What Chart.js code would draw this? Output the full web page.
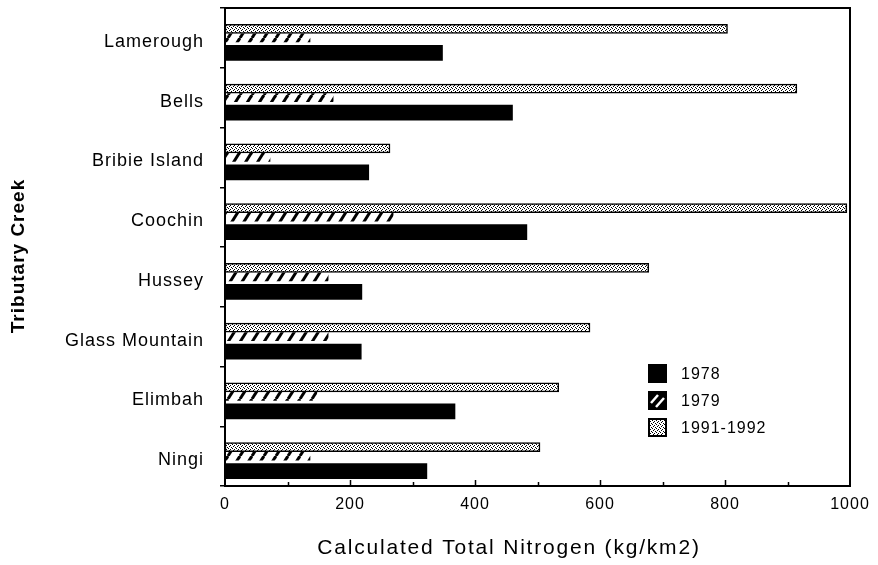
<!DOCTYPE html>
<html>
<head>
<meta charset="utf-8">
<script src="https://cdn.jsdelivr.net/npm/chart.js@4/dist/chart.umd.min.js"></script>
<style>
  html, body { margin: 0; padding: 0; background: #fff; }
  #wrap { width: 878px; height: 565px; }
</style>
</head>
<body>
<div id="wrap"><canvas id="nitrogen-chart" width="878" height="565"></canvas></div>
<script>
const creeks = ["Lamerough", "Bells", "Bribie Island", "Coochin", "Hussey", "Glass Mountain", "Elimbah", "Ningi"];
const n1978 = [348, 460, 230, 483, 219, 218, 368, 323];
const n1979 = [136, 173, 72, 269, 165, 165, 147, 136];
const n1991 = [804, 915, 264, 995, 678, 584, 534, 504];
const xTicks = [0, 200, 400, 600, 800, 1000];
const FONT = "'Liberation Sans', Arial, Helvetica, sans-serif";

// fine stipple used for the 1991-1992 bars
function stipplePattern() {
  const c = document.createElement("canvas");
  c.width = 4; c.height = 4;
  const g = c.getContext("2d");
  g.fillStyle = "#fff";
  g.fillRect(0, 0, 4, 4);
  g.fillStyle = "#000";
  g.fillRect(0, 0, 1, 1);
  g.fillRect(2, 1, 1, 1);
  g.fillRect(1, 2, 1, 1);
  g.fillRect(3, 3, 1, 1);
  return g.createPattern(c, "repeat");
}

// steep slashes used for the 1979 bars
function hatchPattern() {
  const w = 12, h = 19;
  const c = document.createElement("canvas");
  c.width = w; c.height = h;
  const g = c.getContext("2d");
  g.fillStyle = "#fff";
  g.fillRect(0, 0, w, h);
  g.strokeStyle = "#000";
  g.lineWidth = 3;
  for (const dx of [-w, 0, w]) {
    g.beginPath();
    g.moveTo(dx, h);
    g.lineTo(dx + w, 0);
    g.stroke();
  }
  return g.createPattern(c, "repeat");
}

const dots = stipplePattern();
const hatch = hatchPattern();

const frame = {
  id: "frame",
  beforeDraw(chart) {
    chart.ctx.letterSpacing = "1px";
  },
  afterDatasetsDraw(chart) {
    const { ctx, chartArea: a, scales } = chart;
    ctx.save();
    ctx.strokeStyle = "#000";
    ctx.lineWidth = 2;
    ctx.strokeRect(a.left, a.top, a.right - a.left, a.bottom - a.top);
    // inward ticks every 100 along the bottom axis
    ctx.lineWidth = 1.5;
    for (let v = 100; v < 1000; v += 100) {
      const x = Math.round(scales.x.getPixelForValue(v)) + 0.5;
      ctx.beginPath();
      ctx.moveTo(x, a.bottom);
      ctx.lineTo(x, a.bottom - (v % 200 === 0 ? 6 : 4));
      ctx.stroke();
    }
    ctx.restore();
  },
  afterDraw(chart) {
    const { ctx, chartArea: a } = chart;
    ctx.save();
    ctx.letterSpacing = "1px";
    // legend, listed oldest first
    const items = [
      { label: "1978", fill: "#000", kind: "solid" },
      { label: "1979", fill: "#000", kind: "hatch" },
      { label: "1991-1992", fill: dots, kind: "dots" },
    ];
    const lx = a.left + 423, ly = a.top + 356, size = 19, step = 27;
    items.forEach((it, i) => {
      const y = ly + i * step;
      ctx.fillStyle = it.fill;
      ctx.fillRect(lx, y, size, size);
      if (it.kind === "hatch") {
        ctx.strokeStyle = "#fff";
        ctx.lineWidth = 2.5;
        ctx.beginPath();
        ctx.moveTo(lx + 3, y + 12); ctx.lineTo(lx + 10, y + 4);
        ctx.moveTo(lx + 8, y + 16); ctx.lineTo(lx + 16, y + 7);
        ctx.stroke();
      }
      if (it.kind === "dots") {
        ctx.strokeStyle = "#000";
        ctx.lineWidth = 2;
        ctx.strokeRect(lx + 1, y + 1, size - 2, size - 2);
      }
      ctx.fillStyle = "#000";
      ctx.font = `16px ${FONT}`;
      ctx.textBaseline = "middle";
      ctx.textAlign = "left";
      ctx.fillText(it.label, lx + 33, y + size / 2 + 1);
    });

    // axis titles
    ctx.textAlign = "center";
    ctx.textBaseline = "middle";
    ctx.letterSpacing = "1.8px";
    ctx.font = `21px ${FONT}`;
    ctx.fillText("Calculated Total Nitrogen (kg/km2)", 509, 548);
    ctx.letterSpacing = "1px";
    ctx.font = `bold 19px ${FONT}`;
    ctx.translate(19, 256);
    ctx.rotate(-Math.PI / 2);
    ctx.fillText("Tributary Creek", 0, 0);
    ctx.restore();
  },
};

new Chart(document.getElementById("nitrogen-chart"), {
  type: "bar",
  data: {
    labels: creeks,
    datasets: [
      {
        label: "1991-1992",
        data: n1991,
        backgroundColor: dots,
        borderColor: "#000",
        borderWidth: 1.5,
        borderSkipped: false,
        barThickness: 9,
      },
      {
        label: "1979",
        data: n1979,
        backgroundColor: hatch,
        borderWidth: 0,
        barThickness: 8,
      },
      {
        label: "1978",
        data: n1978,
        backgroundColor: "#000",
        borderWidth: 0,
        barThickness: 15,
      },
    ],
  },
  options: {
    indexAxis: "y",
    responsive: false,
    animation: false,
    events: [],
    categoryPercentage: 0.577,
    barPercentage: 1,
    layout: { padding: { top: 8, right: 28, left: 0, bottom: 0 } },
    plugins: {
      legend: { display: false },
      tooltip: { enabled: false },
    },
    scales: {
      x: {
        min: 0,
        max: 1000,
        afterFit: (s) => { s.height = 79; s.paddingLeft = 0; s.paddingRight = 0; },
        afterBuildTicks: (s) => { s.ticks = xTicks.map((v) => ({ value: v })); },
        grid: { display: false, drawTicks: false },
        border: { display: false },
        ticks: {
          color: "#000",
          padding: 9,
          maxRotation: 0,
          callback: (v) => String(v),
          font: { family: FONT, size: 16 },
        },
      },
      y: {
        afterFit: (s) => { s.width = 225; s.paddingTop = 0; s.paddingBottom = 0; },
        grid: { drawOnChartArea: false, tickLength: 5, color: "#000", lineWidth: 1.5 },
        border: { display: false },
        ticks: {
          color: "#000",
          padding: 16,
          labelOffset: 4,
          font: { family: FONT, size: 18 },
        },
      },
    },
  },
  plugins: [frame],
});
</script>
</body>
</html>
